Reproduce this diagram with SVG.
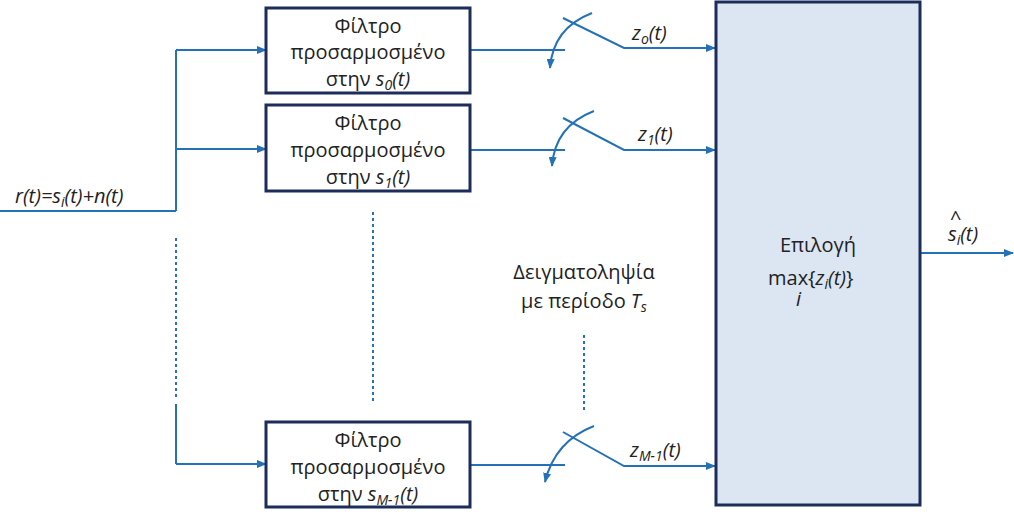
<svg xmlns="http://www.w3.org/2000/svg" width="1014" height="514" viewBox="0 0 1014 514">
<defs>
<style>
.ln{stroke:#2472b5;stroke-width:2;fill:none}
.dt{stroke:#2472b5;stroke-width:2;fill:none;stroke-dasharray:3 3}
.bx{fill:#fff;stroke:#1c2d5a;stroke-width:3}
text{font-family:"Open Sans","Liberation Sans",sans-serif;font-size:20px;fill:#222}
.c{text-anchor:middle}
.sb{font-size:14px}
</style>
<marker id="ar" markerWidth="10" markerHeight="8" refX="9" refY="4" orient="auto" markerUnits="userSpaceOnUse"><path d="M0,0L10,4L0,8z" fill="#2472b5"/></marker>
</defs>
<g id="connectors">
<path class="ln" d="M0,211H176M176,50V211M176,404V464"/>
<path class="dt" d="M176,238V400M373,212V402M584,335V410"/>
<path class="ln" marker-end="url(#ar)" d="M176,50H266"/>
<path class="ln" marker-end="url(#ar)" d="M176,149H266"/>
<path class="ln" marker-end="url(#ar)" d="M176,464H266"/>
<path class="ln" d="M470,50H565M470,150H565M470,465H565"/>
<path class="ln" marker-end="url(#ar)" d="M563,18L624,48H715"/>
<path class="ln" marker-end="url(#ar)" d="M563,118L624,150H715"/>
<path class="ln" marker-end="url(#ar)" d="M563,432L624,466H715"/>
<path class="ln" marker-end="url(#ar)" d="M592,13Q553,28 550,68"/>
<path class="ln" marker-end="url(#ar)" d="M594,111Q555,126 552,166"/>
<path class="ln" marker-end="url(#ar)" d="M594,426Q555,441 545,482"/>
<path class="ln" marker-end="url(#ar)" d="M920,253H1013"/>
</g>
<g id="f0"><rect class="bx" x="266" y="8" width="204" height="85"/>
<text class="c" x="368" y="33">Φίλτρο</text><text class="c" x="368" y="59">προσαρμοσμένο</text><text class="c" x="368" y="86">στην <tspan font-style="italic">s</tspan><tspan class="sb" font-style="italic" dy="4">0</tspan><tspan dy="-4" font-style="italic">(t)</tspan></text></g>
<g id="f1"><rect class="bx" x="266" y="105" width="204" height="86"/>
<text class="c" x="368" y="130">Φίλτρο</text><text class="c" x="368" y="157">προσαρμοσμένο</text><text class="c" x="368" y="184">στην <tspan font-style="italic">s</tspan><tspan class="sb" font-style="italic" dy="4">1</tspan><tspan dy="-4" font-style="italic">(t)</tspan></text></g>
<g id="f2"><rect class="bx" x="266" y="422" width="204" height="85"/>
<text class="c" x="368" y="447">Φίλτρο</text><text class="c" x="368" y="474">προσαρμοσμένο</text><text class="c" x="368" y="501">στην <tspan font-style="italic">s</tspan><tspan class="sb" font-style="italic" dy="4">M-1</tspan><tspan dy="-4" font-style="italic">(t)</tspan></text></g>
<g id="sel"><rect x="716" y="2" width="204" height="503" fill="#dce6f2" stroke="#1c2d5a" stroke-width="3"/>
<text class="c" x="818" y="252">Επιλογή</text>
<text x="768" y="285">max{<tspan font-style="italic">z</tspan><tspan class="sb" font-style="italic" dy="4">i</tspan><tspan dy="-4" font-style="italic">(t)</tspan>}</text>
<text x="796" y="306" font-style="italic">i</text></g>
<g id="labels">
<text x="15" y="203" font-style="italic">r(t)=s<tspan class="sb" dy="4">i</tspan><tspan dy="-4">(t)+n(t)</tspan></text>
<text x="632" y="40" font-style="italic">z<tspan class="sb" dy="4">o</tspan><tspan dy="-4">(t)</tspan></text>
<text x="638" y="141" font-style="italic">z<tspan class="sb" dy="4">1</tspan><tspan dy="-4">(t)</tspan></text>
<text x="630" y="457" font-style="italic">z<tspan class="sb" dy="4">M-1</tspan><tspan dy="-4">(t)</tspan></text>
<text x="948" y="241" font-style="italic">s<tspan class="sb" dy="4">i</tspan><tspan dy="-4">(t)</tspan></text>
<text x="950" y="225" font-size="15">^</text>
<text class="c" x="584" y="279">Δειγματοληψία</text>
<text class="c" x="584" y="308">με περίοδο <tspan font-style="italic">T</tspan><tspan class="sb" font-style="italic" dy="4">s</tspan></text>
</g>
</svg>
